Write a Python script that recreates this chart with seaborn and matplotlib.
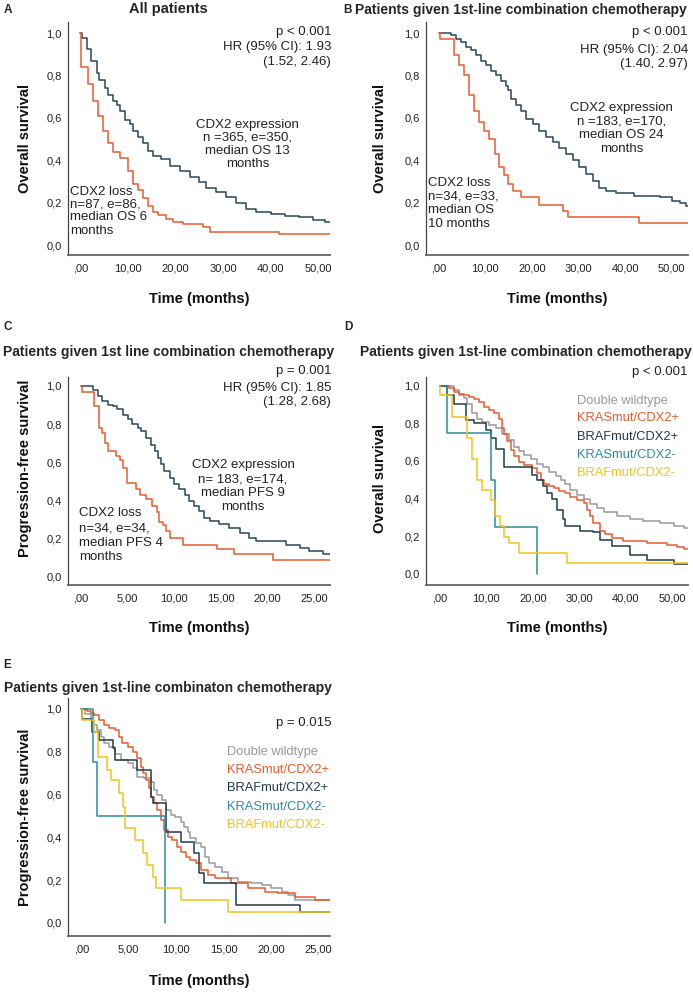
import numpy as np
import pandas as pd
import matplotlib
matplotlib.use("Agg")
import matplotlib.pyplot as plt
import seaborn as sns

# ======================= DATA =======================
# Panel A - overall survival, all patients
a_expr_t = [0, 0.3, 1.3, 2.3, 3.4, 4.0, 5.1, 5.8, 6.9, 7.6, 8.3, 9.3, 10.4, 11.0, 12.1, 13.2,
            14.2, 15.3, 17.0, 18.8, 20.9, 23.0, 25.0, 26.5, 28.6, 30.7, 32.8, 34.9, 37.0,
            40.0, 43.0, 46.0, 49.0, 51.5, 52.5]
a_expr_s = [1.0, 0.975, 0.925, 0.87, 0.81, 0.78, 0.74, 0.71, 0.68, 0.66, 0.63, 0.59, 0.57, 0.54,
            0.51, 0.48, 0.445, 0.42, 0.405, 0.375, 0.35, 0.32, 0.295, 0.27, 0.25, 0.225, 0.20,
            0.17, 0.155, 0.145, 0.138, 0.13, 0.12, 0.11, 0.11]
a_loss_t = [0, 0.1, 1.6, 2.7, 3.7, 4.8, 5.8, 6.9, 8.3, 10.0, 11.0, 12.1, 13.2, 14.2, 15.3, 16.3,
            18.0, 19.5, 21.6, 25.8, 27.2, 41.7, 52.5]
a_loss_s = [1.0, 0.84, 0.76, 0.68, 0.61, 0.54, 0.48, 0.44, 0.41, 0.35, 0.29, 0.26, 0.22, 0.185,
            0.155, 0.14, 0.125, 0.11, 0.10, 0.085, 0.06, 0.05, 0.05]

# Panel B - overall survival, 1st-line combination chemotherapy
b_expr_t = [0, 2.6, 3.7, 4.8, 5.9, 6.9, 8.0, 9.1, 10.2, 11.3, 12.3, 13.4, 14.5, 14.8, 15.6, 16.6,
            17.7, 18.8, 20.2, 21.6, 23.1, 24.5, 25.9, 27.4, 28.8, 30.2, 31.7, 33.1, 34.5, 36.0,
            38.1, 41.9, 47.6, 50.0, 51.8, 53.0, 53.5]
b_expr_s = [1.0, 0.99, 0.97, 0.96, 0.935, 0.92, 0.895, 0.87, 0.85, 0.82, 0.80, 0.775, 0.75, 0.73,
            0.69, 0.66, 0.63, 0.595, 0.57, 0.54, 0.51, 0.485, 0.46, 0.43, 0.40, 0.37, 0.335, 0.30,
            0.27, 0.255, 0.245, 0.233, 0.225, 0.21, 0.20, 0.185, 0.185]
b_loss_t = [0, 0.3, 3.4, 4.4, 5.5, 6.6, 7.7, 8.7, 9.8, 10.9, 12.0, 13.0, 14.1, 14.8, 15.9, 17.7,
            21.6, 26.7, 27.7, 43.0, 53.5]
b_loss_s = [1.0, 0.97, 0.895, 0.85, 0.80, 0.71, 0.63, 0.58, 0.54, 0.50, 0.43, 0.367, 0.33, 0.29,
            0.257, 0.225, 0.19, 0.16, 0.13, 0.104, 0.104]

# Panel C - progression-free survival, 1st-line combination chemotherapy
c_expr_t = [0, 1.25, 1.8, 2.3, 2.9, 3.4, 3.9, 4.5, 5.0, 5.5, 6.1, 6.4, 7.0, 7.5, 7.9, 8.2, 8.6,
            8.9, 9.5, 10.0, 10.5, 11.1, 11.6, 12.1, 12.7, 13.2, 13.8, 14.8, 15.9, 17.0, 18.0,
            18.8, 22.0, 23.5, 24.5, 26.0, 26.7]
c_expr_s = [1.0, 0.98, 0.95, 0.92, 0.90, 0.895, 0.877, 0.85, 0.825, 0.80, 0.78, 0.765, 0.73, 0.69,
            0.66, 0.625, 0.59, 0.555, 0.52, 0.485, 0.46, 0.43, 0.40, 0.37, 0.345, 0.31, 0.293,
            0.275, 0.258, 0.232, 0.206, 0.19, 0.17, 0.153, 0.135, 0.122, 0.122]
c_loss_t = [0, 0.05, 1.4, 1.9, 2.2, 2.6, 2.9, 3.8, 4.2, 4.5, 4.9, 5.9, 6.3, 7.0, 7.6, 8.1, 8.4,
            8.8, 9.1, 9.5, 10.9, 14.6, 16.4, 20.6, 26.7]
c_loss_s = [1.0, 0.97, 0.895, 0.78, 0.755, 0.70, 0.66, 0.635, 0.61, 0.57, 0.49, 0.46, 0.43, 0.41,
            0.37, 0.34, 0.29, 0.27, 0.24, 0.206, 0.17, 0.145, 0.118, 0.087, 0.087]

# Panel D - overall survival by KRAS/BRAF/CDX2 subgroup
d_dw_t = [0, 3.1, 4.2, 5.3, 6.0, 7.0, 8.1, 9.2, 10.6, 12.1, 13.5, 14.9, 16.0, 17.1, 18.1, 19.6,
          21.0, 22.1, 23.5, 24.9, 26.0, 26.9, 28.0, 29.4, 30.9, 32.3, 33.7, 35.2, 38.0, 40.9,
          43.7, 47.3, 50.2, 52.5, 53.3]
d_dw_s = [1.0, 0.975, 0.95, 0.935, 0.905, 0.855, 0.825, 0.805, 0.79, 0.775, 0.745, 0.71, 0.675,
          0.65, 0.63, 0.61, 0.585, 0.565, 0.54, 0.52, 0.50, 0.475, 0.445, 0.42, 0.395, 0.37, 0.35,
          0.33, 0.305, 0.29, 0.28, 0.27, 0.252, 0.243, 0.243]
d_kp_t = [0, 2.0, 3.1, 4.2, 5.3, 6.3, 7.4, 8.5, 9.5, 10.6, 11.7, 12.8, 13.5, 13.8, 14.5, 15.3,
          16.0, 17.1, 18.1, 19.9, 21.0, 21.7, 22.4, 23.5, 24.6, 25.6, 26.9, 28.0, 29.4, 30.9,
          31.6, 32.3, 33.0, 34.4, 35.5, 36.9, 39.4, 44.5, 48.8, 50.9, 52.5, 53.3]
d_kp_s = [1.0, 0.985, 0.965, 0.958, 0.95, 0.94, 0.93, 0.915, 0.885, 0.87, 0.855, 0.825, 0.775,
          0.745, 0.705, 0.66, 0.625, 0.595, 0.58, 0.56, 0.535, 0.50, 0.475, 0.465, 0.455, 0.44,
          0.428, 0.41, 0.393, 0.375, 0.34, 0.305, 0.27, 0.225, 0.21, 0.19, 0.175, 0.165, 0.155,
          0.14, 0.13, 0.13]
d_bp_t = [0, 1.7, 3.1, 5.6, 7.4, 9.9, 11.0, 12.1, 13.8, 19.9, 21.0, 22.1, 23.1, 24.2, 25.3, 26.4,
          26.9, 30.2, 33.0, 34.4, 37.0, 40.9, 44.5, 50.2, 53.3]
d_bp_s = [1.0, 0.95, 0.905, 0.815, 0.80, 0.765, 0.72, 0.665, 0.57, 0.525, 0.50, 0.465, 0.43,
          0.395, 0.34, 0.29, 0.255, 0.225, 0.22, 0.18, 0.145, 0.10, 0.075, 0.05, 0.05]
d_km_t = [0, 1.7, 11.0, 11.8, 21.0]
d_km_s = [1.0, 0.75, 0.5, 0.25, 0.0]
d_bm_t = [0, 0.05, 2.7, 5.8, 6.9, 8.0, 9.1, 11.0, 11.8, 13.0, 13.8, 14.9, 17.1, 27.3, 53.3]
d_bm_s = [1.0, 0.95, 0.835, 0.72, 0.61, 0.50, 0.445, 0.39, 0.305, 0.255, 0.195, 0.165, 0.11,
          0.055, 0.055]

# Panel E - progression-free survival by KRAS/BRAF/CDX2 subgroup
e_dw_t = [0, 0.4, 1.0, 1.35, 1.7, 2.05, 2.4, 2.9, 3.6, 4.2, 4.9, 5.4, 5.9, 6.6, 7.3, 7.7, 8.0,
          8.5, 8.9, 9.4, 9.9, 10.5, 10.8, 11.2, 11.5, 12.1, 12.6, 13.0, 13.5, 14.1, 14.8, 15.5,
          16.5, 17.9, 19.0, 20.0, 21.1, 21.8, 22.5, 26.2]
e_dw_s = [1.0, 0.975, 0.95, 0.925, 0.90, 0.87, 0.84, 0.824, 0.79, 0.76, 0.746, 0.723, 0.684,
          0.676, 0.66, 0.62, 0.598, 0.575, 0.528, 0.505, 0.497, 0.473, 0.45, 0.427, 0.396, 0.372,
          0.356, 0.31, 0.279, 0.263, 0.24, 0.209, 0.193, 0.185, 0.178, 0.162, 0.146, 0.131,
          0.107, 0.107]
e_kp_t = [0, 0.65, 1.0, 1.35, 1.9, 2.4, 2.9, 3.6, 4.0, 4.3, 4.9, 5.4, 5.9, 6.3, 6.5, 6.8, 7.1,
          7.3, 7.7, 8.0, 8.4, 8.7, 9.1, 9.6, 10.1, 10.5, 11.0, 11.5, 12.1, 12.6, 13.3, 14.1,
          15.8, 17.6, 19.3, 20.7, 22.5, 24.6, 26.2]
e_kp_s = [1.0, 0.99, 0.98, 0.97, 0.95, 0.925, 0.91, 0.90, 0.87, 0.84, 0.824, 0.80, 0.77, 0.73,
          0.70, 0.668, 0.63, 0.59, 0.56, 0.528, 0.48, 0.435, 0.403, 0.388, 0.356, 0.333, 0.31,
          0.294, 0.279, 0.248, 0.224, 0.209, 0.185, 0.162, 0.146, 0.139, 0.123, 0.107, 0.107]
e_bp_t = [0, 0.05, 1.18, 1.9, 3.3, 3.6, 5.9, 7.3, 7.6, 8.9, 10.5, 11.9, 12.4, 12.9, 16.3, 23.0,
          26.2]
e_bp_s = [1.0, 0.955, 0.894, 0.855, 0.816, 0.762, 0.715, 0.59, 0.56, 0.427, 0.38, 0.326, 0.232,
          0.186, 0.085, 0.05, 0.05]
e_km_t = [0, 1.2, 1.7, 8.8]
e_km_s = [1.0, 0.75, 0.5, 0.0]
e_bm_t = [0, 0.05, 1.35, 1.8, 2.75, 3.1, 4.0, 4.4, 4.6, 5.7, 6.5, 6.9, 7.6, 7.9, 10.5, 15.5, 26.2]
e_bm_s = [1.0, 0.95, 0.894, 0.777, 0.715, 0.668, 0.606, 0.544, 0.442, 0.388, 0.326, 0.271,
          0.216, 0.162, 0.107, 0.053, 0.053]

# groups / labels
two_groups = ["CDX2 expression", "CDX2 loss"]
five_groups = ["Double wildtype", "KRASmut/CDX2+", "BRAFmut/CDX2+", "KRASmut/CDX2-", "BRAFmut/CDX2-"]

y_ticks = [0.0, 0.2, 0.4, 0.6, 0.8, 1.0]
y_ticklabels = ["0,0", "0,2", "0,4", "0,6", "0,8", "1,0"]
x_ticks_50 = [0, 10, 20, 30, 40, 50]
x_ticklabels_50 = [",00", "10,00", "20,00", "30,00", "40,00", "50,00"]
x_ticks_25 = [0, 5, 10, 15, 20, 25]
x_ticklabels_25 = [",00", "5,00", "10,00", "15,00", "20,00", "25,00"]

# ======================= STYLE =======================
sns.set_style("white")
plt.rcParams["font.family"] = ["Liberation Sans", "DejaVu Sans"]

COL_EXPR = "#28465b"
COL_LOSS = "#ea5a2c"
pal2 = {"CDX2 expression": COL_EXPR, "CDX2 loss": COL_LOSS}
pal5 = {"Double wildtype": "#9a9a9a", "KRASmut/CDX2+": "#ea5a2c", "BRAFmut/CDX2+": "#223a4c",
        "KRASmut/CDX2-": "#2b8ca2", "BRAFmut/CDX2-": "#f4c41c"}
TXT = "#222222"

W, H = 693, 992
fig = plt.figure(figsize=(W / 100, H / 100), dpi=100)
fig.patch.set_facecolor("white")


def P(x, y):
    return x / W, 1 - y / H


def make_ax(l, t, r, b):
    return fig.add_axes([l / W, 1 - b / H, (r - l) / W, (b - t) / H])


def frame(names, ts, ss):
    rows = []
    for n, t, s in zip(names, ts, ss):
        for ti, si in zip(t, s):
            rows.append((n, ti, si))
    return pd.DataFrame(rows, columns=["group", "time", "surv"])


def draw(ax, df, pal, order, xlim, ylim, xt, xtl, xlab, ylab, ylab_y=0.5, xlab_y=-0.17, ylab_x=-0.14):
    sns.lineplot(data=df, x="time", y="surv", hue="group", hue_order=order, palette=pal,
                 drawstyle="steps-post", estimator=None, sort=False, legend=False,
                 linewidth=1.1, ax=ax)
    ax.set_xlim(*xlim)
    ax.set_ylim(*ylim)
    ax.set_xticks(xt)
    ax.set_xticklabels(xtl, fontsize=8, color=TXT)
    ax.set_yticks(y_ticks)
    ax.set_yticklabels(y_ticklabels, fontsize=8, color=TXT)
    ax.tick_params(axis="both", length=0)
    ax.tick_params(axis="y", pad=4.5)
    ax.tick_params(axis="x", pad=6)
    ax.set_xlabel(xlab, fontsize=10.5, fontweight="bold", color="#111111")
    ax.set_ylabel(ylab, fontsize=10.5, fontweight="bold", color="#111111")
    ax.xaxis.set_label_coords(0.5, xlab_y)
    ax.yaxis.set_label_coords(ylab_x, ylab_y)
    for side in ["top", "right"]:
        ax.spines[side].set_visible(False)
    ax.spines["left"].set_color("#444444")
    ax.spines["left"].set_linewidth(0.9)
    ax.spines["bottom"].set_color("#666666")
    ax.spines["bottom"].set_linewidth(1.3)
    ax.set_facecolor("white")
    ax.grid(False)


def lines(x, ys, texts, ha, size=9.5, color=TXT, weight="normal"):
    for y, s in zip(ys, texts):
        fig.text(*P(x, y), s, ha=ha, va="center", fontsize=size, color=color, fontweight=weight)


# ---------------- Panel A ----------------
axA = make_ax(68, 22, 330, 255)
dfA = frame(two_groups, [a_expr_t, a_loss_t], [a_expr_s, a_loss_s])
draw(axA, dfA, pal2, two_groups, (-2.6, 52.5), (-0.047, 1.052), x_ticks_50, x_ticklabels_50,
     "Time (months)", "Overall survival", xlab_y=-0.16, ylab_x=-0.139)
fig.text(*P(7.5, 10), "A", ha="center", va="center", fontsize=8.5, fontweight="bold")
fig.text(*P(168, 9.5), "All patients", ha="center", va="center", fontsize=10.5, fontweight="bold")
lines(331, [31.7, 46.7, 61.7], ["p < 0.001", "HR (95% CI): 1.93", "(1.52, 2.46)"], "right")
lines(247.5, [125, 137.5, 150.5, 164], ["CDX2 expression", "n =365, e=350,", "median OS 13", "months"], "center")
lines(70, [191.7, 204.5, 217.5, 231.5], ["CDX2 loss", "n=87, e=86,", "median OS 6", "months"], "left")

# ---------------- Panel B ----------------
axB = make_ax(426, 22, 688, 255)
dfB = frame(two_groups, [b_expr_t, b_loss_t], [b_expr_s, b_loss_s])
draw(axB, dfB, pal2, two_groups, (-2.7, 53.5), (-0.047, 1.052), x_ticks_50, x_ticklabels_50,
     "Time (months)", "Overall survival", xlab_y=-0.16, ylab_x=-0.15)
fig.text(*P(348, 10), "B", ha="center", va="center", fontsize=8.5, fontweight="bold")
fig.text(*P(521, 10), "Patients given 1st-line combination chemotherapy", ha="center", va="center",
         fontsize=10, fontweight="bold")
lines(688, [31.7, 50, 64.3], ["p < 0.001", "HR (95% CI): 2.04", "(1.40, 2.97)"], "right")
lines(621.7, [107.7, 121, 135, 149.5], ["CDX2 expression", "n =183, e=170,", "median OS 24", "months"], "center")
lines(427.7, [182.7, 196.7, 210.3, 224], ["CDX2 loss", "n=34, e=33,", "median OS", "10 months"], "left")

# ---------------- Panel C ----------------
axC = make_ax(68, 377, 330, 585)
dfC = frame(two_groups, [c_expr_t, c_loss_t], [c_expr_s, c_loss_s])
draw(axC, dfC, pal2, two_groups, (-1.4, 26.7), (-0.042, 1.047), x_ticks_25, x_ticklabels_25,
     "Time (months)", "Progression-free survival", ylab_y=0.56, xlab_y=-0.173, ylab_x=-0.139)
fig.text(*P(7.5, 327), "C", ha="center", va="center", fontsize=8.5, fontweight="bold")
fig.text(*P(168.3, 351.7), "Patients given 1st line combination chemotherapy", ha="center", va="center",
         fontsize=10, fontweight="bold")
lines(331, [371, 387.7, 401.7], ["p = 0.001", "HR (95% CI): 1.85", "(1.28, 2.68)"], "right")
lines(243, [465, 479.3, 493.3, 506.7], ["CDX2 expression", "n= 183, e=174,", "median PFS 9", "months"], "center")
lines(79.3, [513.3, 528.3, 543, 556.7], ["CDX2 loss", "n=34, e=34,", "median PFS 4", "months"], "left")

# ---------------- Panel D ----------------
axD = make_ax(426, 377, 688, 585)
dfD = frame(five_groups, [d_dw_t, d_kp_t, d_bp_t, d_km_t, d_bm_t],
            [d_dw_s, d_kp_s, d_bp_s, d_km_s, d_bm_s])
draw(axD, dfD, pal5, five_groups, (-2.9, 53.3), (-0.06, 1.046), x_ticks_50, x_ticklabels_50,
     "Time (months)", "Overall survival", ylab_y=0.513, xlab_y=-0.173, ylab_x=-0.15)
fig.text(*P(348, 327), "D", ha="center", va="center", fontsize=8.5, fontweight="bold")
fig.text(*P(525.8, 352), "Patients given 1st-line combination chemotherapy", ha="center", va="center",
         fontsize=10, fontweight="bold")
lines(688, [371.7], ["p < 0.001"], "right")
for g, y in zip(five_groups, [400.7, 418.3, 436.7, 455, 473.3]):
    fig.text(*P(576.7, y), g, ha="left", va="center", fontsize=9.3, color=pal5[g])

# ---------------- Panel E ----------------
axE = make_ax(68, 698, 330, 936)
dfE = frame(five_groups, [e_dw_t, e_kp_t, e_bp_t, e_km_t, e_bm_t],
            [e_dw_s, e_kp_s, e_bp_s, e_km_s, e_bm_s])
draw(axE, dfE, pal5, five_groups, (-1.4, 26.2), (-0.061, 1.051), x_ticks_25, x_ticklabels_25,
     "Time (months)", "Progression-free survival", xlab_y=-0.16, ylab_x=-0.139)
fig.text(*P(7.5, 665), "E", ha="center", va="center", fontsize=8.5, fontweight="bold")
fig.text(*P(168.3, 688.3), "Patients given 1st-line combinaton chemotherapy", ha="center", va="center",
         fontsize=10, fontweight="bold")
lines(331, [723.3], ["p = 0.015"], "right")
for g, y in zip(five_groups, [752.3, 770, 788.3, 806.7, 825]):
    fig.text(*P(226.7, y), g, ha="left", va="center", fontsize=9.3, color=pal5[g])

fig.savefig("out.png", dpi=100, facecolor="white")
